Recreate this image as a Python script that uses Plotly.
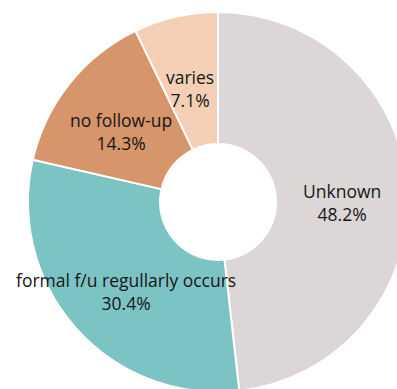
import math
import plotly.graph_objects as go

# ---- data ----
labels = ["Unknown", "formal f/u regullarly occurs", "no follow-up", "varies"]
counts = [27, 17, 8, 4]
colors = ["#dcd6d6", "#7cc4c4", "#d6956a", "#f4cfb6"]

# ---- geometry (pixels) ----
W, H = 410, 395
CX, CY, R = 218, 202, 190
HOLE = 0.305

fig = go.Figure(go.Pie(
    labels=labels,
    values=counts,
    marker=dict(colors=colors, line=dict(color="white", width=2)),
    hole=HOLE,
    sort=False,
    direction="clockwise",
    rotation=0,
    textinfo="none",
    hoverinfo="label+percent",
    showlegend=False,
    domain=dict(x=[(CX - R) / W, (CX + R) / W],
                y=[(H - (CY + R)) / H, (H - (CY - R)) / H]),
))

# labels placed at the middle of each slice, derived from the data
total = sum(counts)
cum = 0
r_text = R * (1 + HOLE) / 2
for lab, v in zip(labels, counts):
    mid = (cum + v / 2) / total * 2 * math.pi
    cum += v
    px = CX + r_text * math.sin(mid)
    py = CY - r_text * math.cos(mid)
    fig.add_annotation(
        x=px / W, y=1 - py / H, xref="paper", yref="paper",
        text=f"{lab}<br>{v / total * 100:.1f}%",
        showarrow=False, xanchor="center", yanchor="middle", yshift=-7,
        font=dict(family="Open Sans", size=17.5, color="#161616"),
        align="center",
    )

fig.update_layout(
    width=W, height=H,
    margin=dict(l=0, r=0, t=0, b=0),
    paper_bgcolor="white",
    plot_bgcolor="white",
)

fig.write_html(
    "out.html",
    config={"displayModeBar": False},
    post_script="document.body.style.margin='0';document.body.style.overflow='hidden';",
)
